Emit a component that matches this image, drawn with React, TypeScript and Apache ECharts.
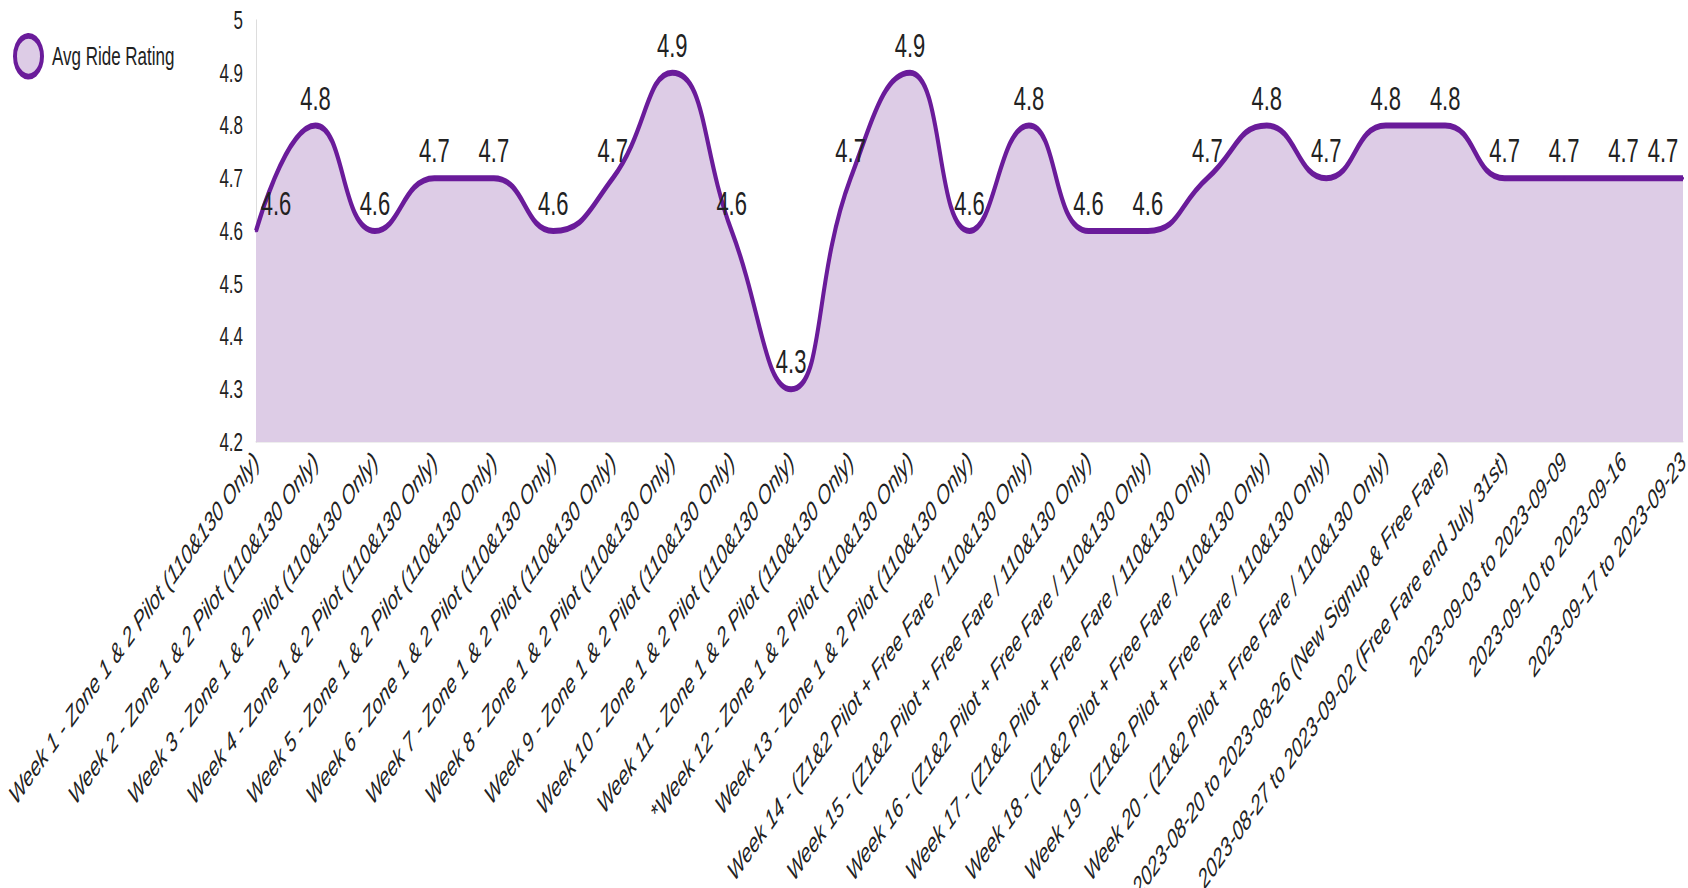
import React, { useEffect, useRef } from "react";
import * as echarts from "echarts";

// Weekly ride-rating figures
const categories: string[] = [
  "Week 1 - Zone 1 & 2 Pilot (110&130 Only)",
  "Week 2 - Zone 1 & 2 Pilot (110&130 Only)",
  "Week 3 - Zone 1 & 2 Pilot (110&130 Only)",
  "Week 4 - Zone 1 & 2 Pilot (110&130 Only)",
  "Week 5 - Zone 1 & 2 Pilot (110&130 Only)",
  "Week 6 - Zone 1 & 2 Pilot (110&130 Only)",
  "Week 7 - Zone 1 & 2 Pilot (110&130 Only)",
  "Week 8 - Zone 1 & 2 Pilot (110&130 Only)",
  "Week 9 - Zone 1 & 2 Pilot (110&130 Only)",
  "Week 10 - Zone 1 & 2 Pilot (110&130 Only)",
  "Week 11 - Zone 1 & 2 Pilot (110&130 Only)",
  "*Week 12 - Zone 1 & 2 Pilot (110&130 Only)",
  "Week 13 - Zone 1 & 2 Pilot (110&130 Only)",
  "Week 14 - (Z1&2 Pilot + Free Fare / 110&130 Only)",
  "Week 15 - (Z1&2 Pilot + Free Fare / 110&130 Only)",
  "Week 16 - (Z1&2 Pilot + Free Fare / 110&130 Only)",
  "Week 17 - (Z1&2 Pilot + Free Fare / 110&130 Only)",
  "Week 18 - (Z1&2 Pilot + Free Fare / 110&130 Only)",
  "Week 19 - (Z1&2 Pilot + Free Fare / 110&130 Only)",
  "Week 20 - (Z1&2 Pilot + Free Fare / 110&130 Only)",
  "2023-08-20 to 2023-08-26 (New Signup & Free Fare)",
  "2023-08-27 to 2023-09-02 (Free Fare end July 31st)",
  "2023-09-03 to 2023-09-09",
  "2023-09-10 to 2023-09-16",
  "2023-09-17 to 2023-09-23",
];

const avgRideRating: number[] = [
  4.6, 4.8, 4.6, 4.7, 4.7, 4.6, 4.7, 4.9, 4.6, 4.3, 4.7, 4.9, 4.6, 4.8, 4.6,
  4.6, 4.7, 4.8, 4.7, 4.8, 4.8, 4.7, 4.7, 4.7, 4.7,
];

const seriesName = "Avg Ride Rating";
const yMin = 4.2;
const yMax = 5;
const yStep = 0.1;

const LINE = "#6a1b9a";
const FILL = "#ddcce6";
const TEXT = "#222";
const FONT = "'Liberation Sans', Arial, sans-serif";

// The chart is laid out on a short canvas and stretched vertically.
const STRETCH = 1.5;
const W = 1688;
const H = 888 / STRETCH;

export default function App() {
  const ref = useRef<HTMLDivElement>(null);

  useEffect(() => {
    if (!ref.current) return;
    document.body.style.overflow = "hidden";
    const chart = echarts.init(ref.current, null, { renderer: "svg" });
    const last = avgRideRating.length - 1;
    const seriesData = avgRideRating.map((v, i) => {
      if (i === 0) return { value: v, label: { offset: [20, 0] } };
      if (i === last) return { value: v, label: { offset: [-20, 0] } };
      return v;
    });

    chart.setOption({
      animation: false,
      backgroundColor: "#fff",
      textStyle: { fontFamily: FONT },
      grid: {
        left: 256,
        right: 5,
        top: 13.3,
        bottom: H - 294.7,
        containLabel: false,
        outerBoundsMode: "none",
      },
      legend: {
        left: 13,
        top: 22,
        padding: 0,
        orient: "vertical",
        itemWidth: 27,
        itemHeight: 27,
        selectedMode: false,
        data: [
          {
            name: seriesName,
            icon: "circle",
            itemStyle: { color: FILL, borderColor: LINE, borderWidth: 4 },
          },
        ],
        textStyle: {
          fontSize: 17,
          color: TEXT,
          fontFamily: FONT,
          padding: [0, 0, 0, 5],
        },
      },
      xAxis: {
        type: "category",
        data: categories,
        boundaryGap: false,
        axisLine: { show: true, lineStyle: { color: "#ddd", width: 1 } },
        axisTick: { show: false },
        splitLine: { show: false },
        axisLabel: {
          interval: 0,
          rotate: 43,
          margin: 10,
          fontSize: 18,
          fontStyle: "italic",
          color: TEXT,
          fontFamily: FONT,
        },
      },
      yAxis: {
        type: "value",
        min: yMin,
        max: yMax,
        interval: yStep,
        axisLine: { show: true, lineStyle: { color: "#ddd", width: 1 } },
        axisTick: { show: false },
        splitLine: { show: false },
        axisLabel: {
          margin: 13,
          fontSize: 17,
          color: TEXT,
          fontFamily: FONT,
        },
      },
      series: [
        {
          name: seriesName,
          type: "line",
          data: seriesData,
          smooth: true,
          symbol: "circle",
          symbolSize: 2,
          showSymbol: true,
          itemStyle: { color: LINE },
          lineStyle: { color: LINE, width: 4 },
          areaStyle: { color: FILL, opacity: 1 },
          label: {
            show: true,
            position: "top",
            distance: 6,
            fontSize: 22,
            color: TEXT,
            fontFamily: FONT,
          },
        },
      ],
    });

    return () => chart.dispose();
  }, []);

  return (
    <div
      ref={ref}
      style={{
        position: "absolute",
        left: 0,
        top: 0,
        width: W,
        height: H,
        transform: `scaleY(${STRETCH})`,
        transformOrigin: "0 0",
      }}
    />
  );
}
